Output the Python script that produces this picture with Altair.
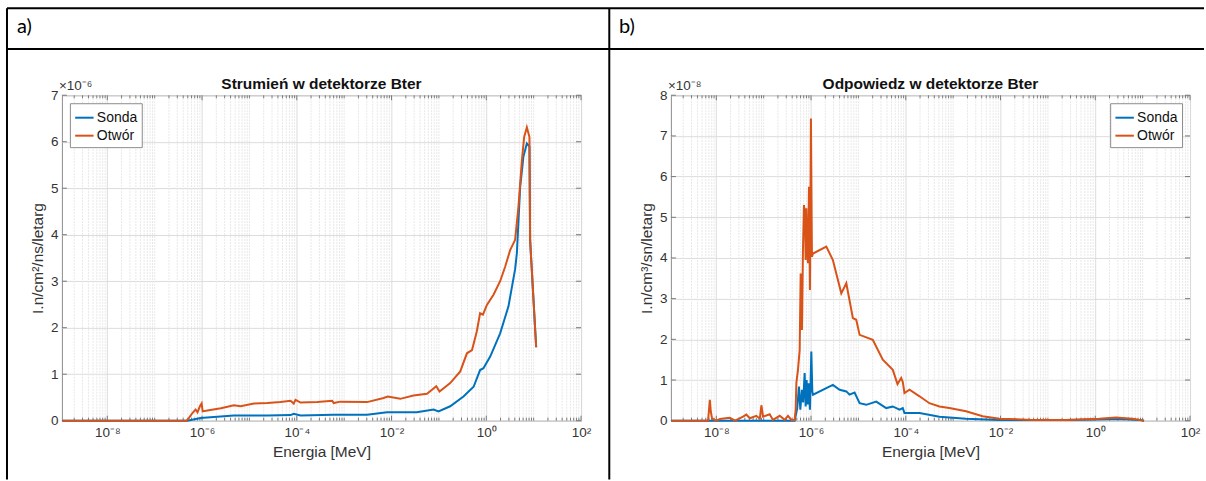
import altair as alt
import pandas as pd

BLUE = "#0072BD"
ORANGE = "#D95319"
SERIES = ["Sonda", "Otwór"]

# ---------------- panel a: Strumień (units of 1e-6) ----------------
a_title = "Strumień w detektorze Bter"
a_ytitle = "I.n/cm²/ns/letarg"
a_exp_label = "×10⁻⁶"
a_unit = 1e-6
a_ymax = 7

a_sonda_E = [1.12e-9, 4.9e-7, 9.3e-7, 4.7e-6, 2.4e-5, 7.4e-5, 8.6e-5, 1.2e-4, 5.9e-4, 3.05e-3,
             8.0e-3, 3.4e-2, 7.7e-2, 9.8e-2, 0.173, 0.33, 0.54, 0.74, 0.87, 1.21,
             1.96, 2.94, 4.06, 4.42, 5.19, 6.08, 7.18, 8.15, 8.41, 11.3]
a_sonda_v = [0, 0, 0.06, 0.11, 0.11, 0.12, 0.15, 0.11, 0.13, 0.13,
             0.18, 0.18, 0.24, 0.20, 0.31, 0.52, 0.73, 1.09, 1.13, 1.38,
             1.88, 2.46, 3.26, 3.60, 5.03, 5.68, 5.96, 5.90, 3.89, 1.58]

a_otwor_E = [1.12e-9, 4.7e-7, 5.3e-7, 6.2e-7, 7.3e-7, 8.0e-7, 9.0e-7, 9.8e-7, 1.03e-6, 1.29e-6,
             2.5e-6, 4.7e-6, 6.5e-6, 1.24e-5, 2.4e-5, 4.5e-5, 7.4e-5, 8.6e-5, 9.4e-5, 1.2e-4,
             2.7e-4, 5.6e-4, 6.0e-4, 8.3e-4, 3.05e-3, 6.8e-3, 8.3e-3, 1.53e-2, 2.9e-2, 5.6e-2,
             8.8e-2, 0.103, 0.173, 0.282, 0.39, 0.50, 0.63, 0.74, 0.85, 1.03,
             1.42, 1.96, 2.50, 3.19, 4.06, 4.78, 5.64, 6.30, 7.18, 8.15,
             8.41, 11.3]
a_otwor_v = [0, 0, 0.06, 0.16, 0.24, 0.18, 0.31, 0.37, 0.20, 0.22,
             0.27, 0.33, 0.31, 0.37, 0.38, 0.40, 0.43, 0.37, 0.45, 0.39,
             0.40, 0.43, 0.38, 0.41, 0.40, 0.49, 0.52, 0.47, 0.54, 0.58,
             0.74, 0.63, 0.81, 1.06, 1.45, 1.52, 1.92, 2.31, 2.28, 2.49,
             2.71, 3.00, 3.31, 3.67, 3.89, 4.61, 5.60, 6.10, 6.31, 6.10,
             3.89, 1.58]

# ---------------- panel b: Odpowiedz (units of 1e-8) ----------------
b_title = "Odpowiedz w detektorze Bter"
b_ytitle = "I.n/cm³/sn/letarg"
b_exp_label = "×10⁻⁸"
b_unit = 1e-8
b_ymax = 8

b_sonda_E = [1.12e-9, 4.5e-7, 5.1e-7, 5.56e-7, 5.94e-7, 6.43e-7, 6.81e-7, 7.33e-7, 7.69e-7, 8.07e-7,
             8.47e-7, 8.89e-7, 9.48e-7, 1.014e-6, 1.064e-6, 1.10e-6, 2.10e-6, 2.89e-6, 4.01e-6, 5.55e-6,
             6.5e-6, 8.3e-6, 1.06e-5, 1.46e-5, 2.38e-5, 3.86e-5, 5.32e-5, 7.36e-5, 8.65e-5, 9.38e-5,
             1.95e-4, 5.13e-4, 1.87e-3, 9.4e-3, 0.24, 1.21, 3.19, 8.4, 10.7]
b_sonda_v = [0, 0, 0.30, 0.84, 0.27, 0.76, 0.45, 1.17, 0.35, 1.00,
             0.40, 0.92, 0.27, 1.70, 0.72, 0.64, 0.80, 0.88, 0.76, 0.72,
             0.64, 0.69, 0.43, 0.39, 0.47, 0.31, 0.35, 0.27, 0.31, 0.19,
             0.19, 0.10, 0.05, 0.02, 0.02, 0.03, 0.04, 0.02, 0.0]

b_otwor_E = [1.12e-9, 6.7e-9, 7.3e-9, 7.66e-9, 8.15e-9, 1.0e-8, 1.19e-8, 1.92e-8, 2.5e-8, 3.67e-8,
             4.3e-8, 5.1e-8, 7.0e-8, 8.3e-8, 8.95e-8, 9.7e-8, 1.34e-7, 1.57e-7, 2.18e-7, 2.78e-7,
             3.26e-7, 3.85e-7, 4.5e-7, 4.73e-7, 4.9e-7, 5.3e-7, 5.75e-7, 6.04e-7, 6.43e-7, 6.75e-7,
             7.08e-7, 7.43e-7, 7.69e-7, 7.96e-7, 8.2e-7, 8.61e-7, 9.04e-7, 9.48e-7, 9.95e-7, 1.045e-6,
             1.10e-6, 2.10e-6, 2.89e-6, 4.35e-6, 5.55e-6, 7.64e-6, 9.0e-6, 1.06e-5, 2.01e-5, 3.27e-5,
             5.32e-5, 6.68e-5, 8.0e-5, 8.65e-5, 9.38e-5, 1.2e-4, 1.95e-4, 3.15e-4, 5.13e-4, 8.3e-4,
             1.87e-3, 4.2e-3, 9.4e-3, 4.7e-2, 0.24, 1.21, 2.72, 6.08, 8.4, 10.7]
b_otwor_v = [0, 0, 0.51, 0.22, 0.05, 0.0, 0.04, 0.07, 0.0, 0.10,
             0.15, 0.06, 0.12, 0.05, 0.38, 0.10, 0.16, 0.02, 0.12, 0.02,
             0.12, 0.02, 0.02, 0.27, 0.93, 1.25, 1.74, 3.62, 2.23, 4.20,
             5.30, 5.10, 3.95, 5.22, 4.44, 3.87, 5.75, 3.21, 7.43, 4.03,
             4.11, 4.28, 3.95, 3.13, 3.38, 2.52, 2.48, 2.11, 1.99, 1.50,
             1.25, 0.90, 1.05, 0.95, 0.68, 0.76, 0.60, 0.43, 0.35, 0.31,
             0.23, 0.11, 0.05, 0.02, 0.02, 0.05, 0.08, 0.05, 0.02, 0.0]

# ---------------- axes ----------------
x_domain = [1.1e-9, 100]
x_tick_vals = [1e-8, 1e-6, 1e-4, 1e-2, 1, 100]
x_tick_labels = ["10⁻⁸", "10⁻⁶", "10⁻⁴", "10⁻²", "10⁰", "10²"]
x_title = "Energia [MeV]"
panel_labels = ["a)", "b)"]

W, H = 520, 326
FONT = "Liberation Sans"
TXT = "#333333"

# x label expression built from the tick lists
expr = "'" + x_tick_labels[-1] + "'"
for v, lab in reversed(list(zip(x_tick_vals[:-1], x_tick_labels[:-1]))):
    expr = f"datum.value < {v * 3} ? '{lab}' : " + expr

minor_x = []
for k in range(-9, 2):
    for m in range(1, 10):
        val = m * 10.0 ** k
        if val < x_domain[0] or val > x_domain[1]:
            continue
        if m == 1 and k % 2 == 0:
            continue
        minor_x.append(val)


def make_df(E, v, unit, name):
    return pd.DataFrame({"E": E, "v": [x * unit for x in v], "series": name, "i": range(len(E))})


def panel(sonda, otwor, unit, ymax, title, ytitle, exp_label, legend_orient, legend_offset, extra=None):
    xs = alt.Scale(type="log", domain=x_domain, nice=False)
    ys = alt.Scale(domain=[0, ymax * unit], nice=False, zero=True)
    color = alt.Color(
        "series:N",
        scale=alt.Scale(domain=SERIES, range=[BLUE, ORANGE]),
        legend=alt.Legend(
            title=None, orient=legend_orient, offset=legend_offset,
            symbolType="stroke", symbolSize=340, symbolStrokeWidth=2,
            labelFont=FONT, labelFontSize=14, labelColor="#111111",
            fillColor="white", strokeColor="#8c8c8c", padding=4,
            rowPadding=0, labelOffset=2,
        ),
    )
    y_ticks = [i * unit for i in range(ymax + 1)]

    x_axis = alt.Axis(
        values=x_tick_vals, labelExpr=expr, grid=True, gridColor="#dcdcdc", ticks=False, domain=False,
        labelFont=FONT, labelFontSize=13.5, labelColor=TXT, labelPadding=5, labelFlush=False,
        labelOverlap=False, title=x_title, titleFont=FONT, titleFontSize=15.5, titleFontWeight="normal",
        titleColor=TXT, titlePadding=5,
    )
    y_axis = alt.Axis(
        values=y_ticks, labelExpr=f"round(datum.value / {unit})", grid=True, gridColor="#dcdcdc",
        ticks=False, domain=False, labelFont=FONT, labelFontSize=13.5, labelColor=TXT, labelPadding=4,
        title=ytitle, titleFont=FONT, titleFontSize=15.5, titleFontWeight="normal", titleColor=TXT,
        titlePadding=5,
    )
    X = lambda f: alt.X(f, scale=xs, axis=x_axis)
    Y = lambda f: alt.Y(f, scale=ys, axis=y_axis)

    minor_df = pd.DataFrame({"x": minor_x})
    major_df = pd.DataFrame({"x": x_tick_vals})
    yt_df = pd.DataFrame({"y": y_ticks})

    grid_minor = alt.Chart(minor_df).mark_rule(color="#e8e8e8", strokeWidth=1, strokeDash=[2, 1]).encode(
        x=X("x:Q"), y=alt.value(0), y2=alt.value(H))
    tick_b = alt.Chart(minor_df).mark_rule(color="#777777", strokeWidth=1).encode(
        x=X("x:Q"), y=alt.value(H), y2=alt.value(H - 3))
    tick_t = alt.Chart(minor_df).mark_rule(color="#777777", strokeWidth=1).encode(
        x=X("x:Q"), y=alt.value(0), y2=alt.value(3))
    mtick_b = alt.Chart(major_df).mark_rule(color="#777777", strokeWidth=1).encode(
        x=X("x:Q"), y=alt.value(H), y2=alt.value(H - 5))
    mtick_t = alt.Chart(major_df).mark_rule(color="#777777", strokeWidth=1).encode(
        x=X("x:Q"), y=alt.value(0), y2=alt.value(5))
    ytick_l = alt.Chart(yt_df).mark_rule(color="#777777", strokeWidth=1).encode(
        y=Y("y:Q"), x=alt.value(0), x2=alt.value(5))
    ytick_r = alt.Chart(yt_df).mark_rule(color="#777777", strokeWidth=1).encode(
        y=Y("y:Q"), x=alt.value(W - 5), x2=alt.value(W))

    line_s = alt.Chart(sonda).mark_line(strokeWidth=2).encode(
        x=X("E:Q"), y=Y("v:Q"), color=color, order="i:Q")
    line_o = alt.Chart(otwor).mark_line(strokeWidth=2).encode(
        x=X("E:Q"), y=Y("v:Q"), color=color, order="i:Q")

    exp_txt = alt.Chart(pd.DataFrame({"t": [exp_label]})).mark_text(
        align="left", baseline="alphabetic", font=FONT, fontSize=13.5, color=TXT).encode(
        text="t:N", x=alt.value(-3), y=alt.value(-5))
    title_txt = alt.Chart(pd.DataFrame({"t": [title]})).mark_text(
        align="center", baseline="alphabetic", font=FONT, fontSize=15.5, fontWeight="bold",
        color="#111111").encode(text="t:N", x=alt.value(W / 2), y=alt.value(-6))

    layers = [grid_minor, tick_b, tick_t, mtick_b, mtick_t, ytick_l, ytick_r, line_s, line_o,
              exp_txt, title_txt]
    if extra:
        layers += extra
    return alt.layer(*layers).properties(width=W, height=H)


# table frame around the two panels, coordinates relative to panel a plot area
def hrule(y):
    return alt.Chart(pd.DataFrame({"k": [0]})).mark_rule(color="black", strokeWidth=2).encode(
        x=alt.value(-55), x2=alt.value(1144), y=alt.value(y))


def vrule(x):
    return alt.Chart(pd.DataFrame({"k": [0]})).mark_rule(color="black", strokeWidth=2).encode(
        x=alt.value(x), y=alt.value(-87.2), y2=alt.value(385))


def label(t, x):
    return alt.Chart(pd.DataFrame({"t": [t]})).mark_text(
        align="left", baseline="alphabetic", font="Lato", fontSize=20, color="black").encode(
        text="t:N", x=alt.value(x), y=alt.value(-62))


frame = [hrule(-87.2), hrule(-46.2), vrule(-55), vrule(548.3),
         label(panel_labels[0], -45), label(panel_labels[1], 558)]

pa = panel(make_df(a_sonda_E, a_sonda_v, a_unit, SERIES[0]), make_df(a_otwor_E, a_otwor_v, a_unit, SERIES[1]),
           a_unit, a_ymax, a_title, a_ytitle, a_exp_label, "top-left", 8, extra=frame)
pb = panel(make_df(b_sonda_E, b_sonda_v, b_unit, SERIES[0]), make_df(b_otwor_E, b_otwor_v, b_unit, SERIES[1]),
           b_unit, b_ymax, b_title, b_ytitle, b_exp_label, "top-right", 8)

chart = alt.hconcat(pa, pb, spacing=90, bounds="flush").resolve_scale(
    x="independent", y="independent", color="independent"
).properties(
    padding={"left": 5, "top": 6, "right": 0, "bottom": 0},
    background="white",
).configure_view(stroke="#8c8c8c", strokeWidth=1)

chart.save("out.html", embed_options={"renderer": "svg", "actions": False})
